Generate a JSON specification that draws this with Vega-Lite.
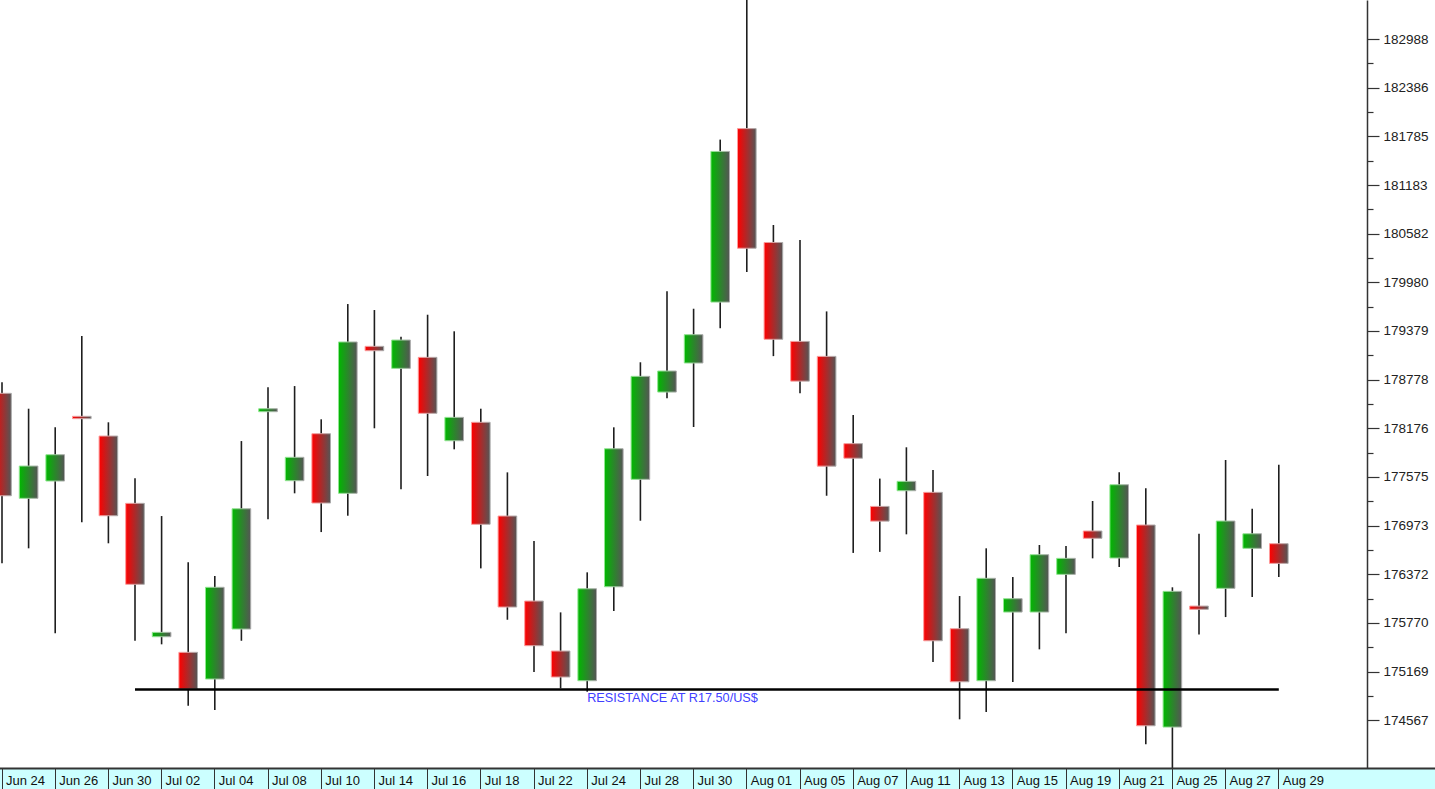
{
  "$schema": "https://vega.github.io/schema/vega-lite/v6.json",
  "width": 1367,
  "height": 768,
  "autosize": {"type": "none"},
  "padding": {"left": 0, "top": 0, "right": 68, "bottom": 21},
  "background": "white",
  "datasets": {
    "candles": [
      {"date": "Jun 24", "open": 178608, "high": 178744, "low": 176506, "close": 177342},
      {"date": "Jun 25", "open": 177310, "high": 178418, "low": 176692, "close": 177709},
      {"date": "Jun 26", "open": 177524, "high": 178188, "low": 175641, "close": 177849},
      {"date": "Jun 27", "open": 178324, "high": 179317, "low": 177013, "close": 178295},
      {"date": "Jun 30", "open": 178080, "high": 178250, "low": 176754, "close": 177095},
      {"date": "Jul 01", "open": 177248, "high": 177557, "low": 175549, "close": 176247},
      {"date": "Jul 02", "open": 175599, "high": 177091, "low": 175505, "close": 175653},
      {"date": "Jul 03", "open": 175406, "high": 176519, "low": 174746, "close": 174952},
      {"date": "Jul 04", "open": 175076, "high": 176349, "low": 174693, "close": 176210},
      {"date": "Jul 07", "open": 175694, "high": 178018, "low": 175549, "close": 177181},
      {"date": "Jul 08", "open": 178381, "high": 178682, "low": 177050, "close": 178418},
      {"date": "Jul 09", "open": 177528, "high": 178698, "low": 177372, "close": 177817},
      {"date": "Jul 10", "open": 178109, "high": 178287, "low": 176893, "close": 177252},
      {"date": "Jul 11", "open": 177372, "high": 179712, "low": 177095, "close": 179243},
      {"date": "Jul 14", "open": 179189, "high": 179638, "low": 178176, "close": 179135},
      {"date": "Jul 15", "open": 178917, "high": 179308, "low": 177421, "close": 179267},
      {"date": "Jul 16", "open": 179053, "high": 179580, "low": 177586, "close": 178361},
      {"date": "Jul 17", "open": 178022, "high": 179375, "low": 177916, "close": 178311},
      {"date": "Jul 18", "open": 178250, "high": 178418, "low": 176444, "close": 176989},
      {"date": "Jul 21", "open": 177091, "high": 177631, "low": 175809, "close": 175966},
      {"date": "Jul 22", "open": 176040, "high": 176782, "low": 175162, "close": 175488},
      {"date": "Jul 23", "open": 175422, "high": 175900, "low": 174961, "close": 175101},
      {"date": "Jul 24", "open": 175055, "high": 176395, "low": 174919, "close": 176192},
      {"date": "Jul 25", "open": 176217, "high": 178188, "low": 175917, "close": 177923},
      {"date": "Jul 28", "open": 177545, "high": 178992, "low": 177033, "close": 178818},
      {"date": "Jul 29", "open": 178624, "high": 179869, "low": 178546, "close": 178884},
      {"date": "Jul 30", "open": 178983, "high": 179654, "low": 178192, "close": 179333},
      {"date": "Jul 31", "open": 179736, "high": 181745, "low": 179413, "close": 181599},
      {"date": "Aug 01", "open": 181881, "high": 183471, "low": 180107, "close": 180402},
      {"date": "Aug 04", "open": 180473, "high": 180689, "low": 179068, "close": 179276},
      {"date": "Aug 05", "open": 179250, "high": 180504, "low": 178610, "close": 178759},
      {"date": "Aug 06", "open": 179065, "high": 179621, "low": 177342, "close": 177708},
      {"date": "Aug 07", "open": 177986, "high": 178340, "low": 176635, "close": 177806},
      {"date": "Aug 08", "open": 177210, "high": 177554, "low": 176648, "close": 177028},
      {"date": "Aug 11", "open": 177404, "high": 177941, "low": 176865, "close": 177520},
      {"date": "Aug 12", "open": 177384, "high": 177660, "low": 175286, "close": 175549},
      {"date": "Aug 13", "open": 175698, "high": 176102, "low": 174578, "close": 175042},
      {"date": "Aug 14", "open": 175055, "high": 176692, "low": 174668, "close": 176321},
      {"date": "Aug 15", "open": 175904, "high": 176337, "low": 175039, "close": 176069},
      {"date": "Aug 18", "open": 175904, "high": 176733, "low": 175443, "close": 176613},
      {"date": "Aug 19", "open": 176370, "high": 176720, "low": 175641, "close": 176568},
      {"date": "Aug 20", "open": 176906, "high": 177277, "low": 176568, "close": 176816},
      {"date": "Aug 21", "open": 176572, "high": 177631, "low": 176461, "close": 177478},
      {"date": "Aug 22", "open": 176980, "high": 177434, "low": 174269, "close": 174498},
      {"date": "Aug 25", "open": 174482, "high": 176210, "low": 173976, "close": 176160},
      {"date": "Aug 26", "open": 175978, "high": 176872, "low": 175628, "close": 175938},
      {"date": "Aug 27", "open": 176197, "high": 177784, "low": 175842, "close": 177029},
      {"date": "Aug 28", "open": 176692, "high": 177181, "low": 176090, "close": 176872},
      {"date": "Aug 29", "open": 176749, "high": 177725, "low": 176337, "close": 176506}
    ],
    "annotations": [
      {"date": "Jul 01", "date_end": "Aug 29", "value": 174946, "label_date": "Jul 24", "label": "RESISTANCE AT R17.50/US$"}
    ]
  },
  "resolve": {"axis": {"x": "independent", "y": "independent"}},
  "layer": [
    {
      "data": {"name": "candles"},
      "mark": {"type": "rule", "color": "#1e1e1e", "strokeWidth": 1.6},
      "encoding": {
        "x": {
          "field": "date", "type": "ordinal", "sort": null,
          "scale": {"type": "band", "domain": ["Jun 24","Jun 25","Jun 26","Jun 27","Jun 30","Jul 01","Jul 02","Jul 03","Jul 04","Jul 07","Jul 08","Jul 09","Jul 10","Jul 11","Jul 14","Jul 15","Jul 16","Jul 17","Jul 18","Jul 21","Jul 22","Jul 23","Jul 24","Jul 25","Jul 28","Jul 29","Jul 30","Jul 31","Aug 01","Aug 04","Aug 05","Aug 06","Aug 07","Aug 08","Aug 11","Aug 12","Aug 13","Aug 14","Aug 15","Aug 18","Aug 19","Aug 20","Aug 21","Aug 22","Aug 25","Aug 26","Aug 27","Aug 28","Aug 29","Sep 01","Sep 02","Sep 03","Sep 04","Sep 05","Sep 08"], "range": [-11.3, 1451.7], "paddingInner": 0, "paddingOuter": 0},
          "axis": {"orient": "bottom", "offset": 21, "domainColor": "#ccffff", "domainWidth": 42, "ticks": false, "labels": false, "title": null, "grid": false, "zindex": 0}
        },
        "y": {
          "field": "low", "type": "quantitative",
          "scale": {"domain": [173976, 183471], "nice": false, "zero": false},
          "axis": {
            "orient": "right", "title": null, "grid": false, "format": "d",
            "values": [174567,174868,175169,175470,175770,176071,176372,176672,176973,177274,177575,177876,178176,178477,178778,179078,179379,179680,179980,180281,180582,180882,181183,181484,181785,182086,182386,182687,182988],
            "labelExpr": "indexof([174567,175169,175770,176372,176973,177575,178176,178778,179379,179980,180582,181183,181785,182386,182988], datum.value) >= 0 ? datum.label : ''",
            "tickSize": {"condition": {"test": "indexof([174567,175169,175770,176372,176973,177575,178176,178778,179379,179980,180582,181183,181785,182386,182988], datum.value) >= 0", "value": 12}, "value": 6},
            "domainColor": "#333333", "domainWidth": 1.5, "tickColor": "#333333", "tickWidth": 1.2,
            "labelFont": "Liberation Sans", "labelFontSize": 13.5, "labelColor": "#222222", "labelPadding": 4,
            "labelBound": false, "labelOverlap": false, "labelFlush": false, "zindex": 1
          }
        },
        "y2": {"field": "high"}
      }
    },
    {
      "data": {"name": "candles"},
      "transform": [{"filter": "datum.close >= datum.open"}],
      "mark": {
        "type": "bar", "width": {"band": 0.7},
        "fill": {"gradient": "linear", "x1": 0, "y1": 0, "x2": 1, "y2": 0, "stops": [{"offset": 0, "color": "#00b800"}, {"offset": 1, "color": "#555555"}]},
        "stroke": {"gradient": "linear", "x1": 0, "y1": 0, "x2": 1, "y2": 0, "stops": [{"offset": 0, "color": "#8fe88f"}, {"offset": 1, "color": "#aaaaaa"}]},
        "strokeWidth": 1
      },
      "encoding": {
        "x": {
          "field": "date", "type": "ordinal", "sort": null,
          "scale": {"type": "band", "domain": ["Jun 24","Jun 25","Jun 26","Jun 27","Jun 30","Jul 01","Jul 02","Jul 03","Jul 04","Jul 07","Jul 08","Jul 09","Jul 10","Jul 11","Jul 14","Jul 15","Jul 16","Jul 17","Jul 18","Jul 21","Jul 22","Jul 23","Jul 24","Jul 25","Jul 28","Jul 29","Jul 30","Jul 31","Aug 01","Aug 04","Aug 05","Aug 06","Aug 07","Aug 08","Aug 11","Aug 12","Aug 13","Aug 14","Aug 15","Aug 18","Aug 19","Aug 20","Aug 21","Aug 22","Aug 25","Aug 26","Aug 27","Aug 28","Aug 29","Sep 01","Sep 02","Sep 03","Sep 04","Sep 05","Sep 08"], "range": [-11.3, 1451.7], "paddingInner": 0, "paddingOuter": 0},
          "axis": {
            "orient": "bottom", "title": null, "grid": false, "zindex": 1,
            "values": ["Jun 24","Jun 26","Jun 30","Jul 02","Jul 04","Jul 08","Jul 10","Jul 14","Jul 16","Jul 18","Jul 22","Jul 24","Jul 28","Jul 30","Aug 01","Aug 05","Aug 07","Aug 11","Aug 13","Aug 15","Aug 19","Aug 21","Aug 25","Aug 27","Aug 29"],
            "domainColor": "#333333", "domainWidth": 1.8, "tickColor": "#333333", "tickWidth": 1, "tickSize": 21,
            "labelAngle": 0, "labelAlign": "left", "labelBaseline": "middle", "labelPadding": -9, "labelOffset": 4,
            "labelFont": "Liberation Sans", "labelFontSize": 13, "labelColor": "#111111",
            "labelBound": false, "labelOverlap": false, "labelFlush": false
          }
        },
        "y": {"field": "open", "type": "quantitative", "scale": {"domain": [173976, 183471], "nice": false, "zero": false}, "axis": null},
        "y2": {"field": "close"}
      }
    },
    {
      "data": {"name": "candles"},
      "transform": [{"filter": "datum.close < datum.open"}],
      "mark": {
        "type": "bar", "width": {"band": 0.7},
        "fill": {"gradient": "linear", "x1": 0, "y1": 0, "x2": 1, "y2": 0, "stops": [{"offset": 0, "color": "#ff0000"}, {"offset": 1, "color": "#555555"}]},
        "stroke": {"gradient": "linear", "x1": 0, "y1": 0, "x2": 1, "y2": 0, "stops": [{"offset": 0, "color": "#ff9a9a"}, {"offset": 1, "color": "#aaaaaa"}]},
        "strokeWidth": 1
      },
      "encoding": {
        "x": {
          "field": "date", "type": "ordinal", "sort": null,
          "scale": {"type": "band", "domain": ["Jun 24","Jun 25","Jun 26","Jun 27","Jun 30","Jul 01","Jul 02","Jul 03","Jul 04","Jul 07","Jul 08","Jul 09","Jul 10","Jul 11","Jul 14","Jul 15","Jul 16","Jul 17","Jul 18","Jul 21","Jul 22","Jul 23","Jul 24","Jul 25","Jul 28","Jul 29","Jul 30","Jul 31","Aug 01","Aug 04","Aug 05","Aug 06","Aug 07","Aug 08","Aug 11","Aug 12","Aug 13","Aug 14","Aug 15","Aug 18","Aug 19","Aug 20","Aug 21","Aug 22","Aug 25","Aug 26","Aug 27","Aug 28","Aug 29","Sep 01","Sep 02","Sep 03","Sep 04","Sep 05","Sep 08"], "range": [-11.3, 1451.7], "paddingInner": 0, "paddingOuter": 0},
          "axis": null
        },
        "y": {"field": "open", "type": "quantitative", "scale": {"domain": [173976, 183471], "nice": false, "zero": false}, "axis": null},
        "y2": {"field": "close"}
      }
    },
    {
      "data": {"name": "annotations"},
      "mark": {"type": "rule", "color": "#000000", "strokeWidth": 2.5},
      "encoding": {
        "x": {
          "field": "date", "type": "ordinal", "sort": null, "bandPosition": 0.5,
          "scale": {"type": "band", "domain": ["Jun 24","Jun 25","Jun 26","Jun 27","Jun 30","Jul 01","Jul 02","Jul 03","Jul 04","Jul 07","Jul 08","Jul 09","Jul 10","Jul 11","Jul 14","Jul 15","Jul 16","Jul 17","Jul 18","Jul 21","Jul 22","Jul 23","Jul 24","Jul 25","Jul 28","Jul 29","Jul 30","Jul 31","Aug 01","Aug 04","Aug 05","Aug 06","Aug 07","Aug 08","Aug 11","Aug 12","Aug 13","Aug 14","Aug 15","Aug 18","Aug 19","Aug 20","Aug 21","Aug 22","Aug 25","Aug 26","Aug 27","Aug 28","Aug 29","Sep 01","Sep 02","Sep 03","Sep 04","Sep 05","Sep 08"], "range": [-11.3, 1451.7], "paddingInner": 0, "paddingOuter": 0},
          "axis": null
        },
        "x2": {"field": "date_end", "bandPosition": 0.5},
        "y": {"field": "value", "type": "quantitative", "scale": {"domain": [173976, 183471], "nice": false, "zero": false}, "axis": null}
      }
    },
    {
      "data": {"name": "annotations"},
      "mark": {"type": "text", "align": "left", "baseline": "top", "dy": 2, "color": "#4040ff", "font": "Liberation Sans", "fontSize": 12.7},
      "encoding": {
        "x": {
          "field": "label_date", "type": "ordinal", "sort": null,
          "scale": {"type": "band", "domain": ["Jun 24","Jun 25","Jun 26","Jun 27","Jun 30","Jul 01","Jul 02","Jul 03","Jul 04","Jul 07","Jul 08","Jul 09","Jul 10","Jul 11","Jul 14","Jul 15","Jul 16","Jul 17","Jul 18","Jul 21","Jul 22","Jul 23","Jul 24","Jul 25","Jul 28","Jul 29","Jul 30","Jul 31","Aug 01","Aug 04","Aug 05","Aug 06","Aug 07","Aug 08","Aug 11","Aug 12","Aug 13","Aug 14","Aug 15","Aug 18","Aug 19","Aug 20","Aug 21","Aug 22","Aug 25","Aug 26","Aug 27","Aug 28","Aug 29","Sep 01","Sep 02","Sep 03","Sep 04","Sep 05","Sep 08"], "range": [-11.3, 1451.7], "paddingInner": 0, "paddingOuter": 0},
          "axis": null
        },
        "y": {"field": "value", "type": "quantitative", "scale": {"domain": [173976, 183471], "nice": false, "zero": false}, "axis": null},
        "text": {"field": "label"}
      }
    }
  ],
  "config": {"view": {"stroke": null}}
}
